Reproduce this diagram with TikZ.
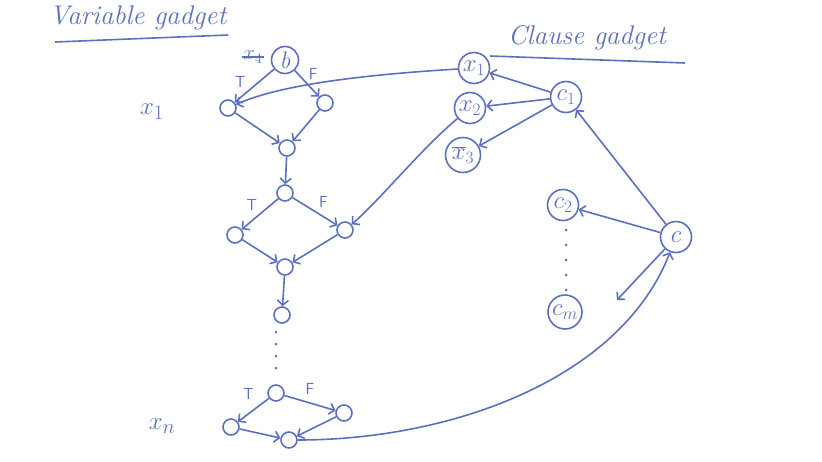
\documentclass[tikz,border=0pt]{standalone}
\usetikzlibrary{arrows.meta}
\definecolor{ink}{RGB}{92,112,192}
\begin{document}
\begin{tikzpicture}[x=1pt,y=-1pt, line width=1.6pt, draw=ink, text=ink,
  vtx/.style={circle,draw=ink,minimum width=16pt,minimum height=15pt,inner sep=0pt},
  lit/.style={circle,draw=ink,minimum size=31pt,inner sep=0pt,font=\fontsize{24}{26}\selectfont\itshape},
  edge/.style={draw=ink,-{Straight Barb[length=5pt,width=11pt]}},
  lbl/.style={font=\fontsize{16}{18}\selectfont\sffamily,text=ink},
  title/.style={font=\fontsize{27}{30}\selectfont\itshape,text=ink},
  side/.style={font=\fontsize{30}{32}\selectfont,text=ink}]
\useasboundingbox (0,0) rectangle (822,461);

% titles
\node[title] (vt) at (138,18) {Variable gadget};
\draw[draw=ink] (55,42) -- (228,35);
\node[title] (ct) at (587,38) {Clause gadget};
\draw[draw=ink] (490,56) -- (685,63);

% variable gadget x1
\node[lit,minimum size=27pt] (b) at (285,60) {b};
\node[text=ink,font=\fontsize{20}{22}\selectfont,inner sep=1pt] (x4) at (253,57) {$x_4$};
\draw[draw=ink,line width=1.2pt] (x4.west) -- (x4.east);
\node[vtx] (l1) at (228,108) {};
\node[vtx] (r1) at (325,103) {};
\node[vtx] (m1) at (287,148) {};
\draw[edge] (b) -- node[lbl,pos=0.65,above left=-1pt] {T} (l1);
\draw[edge] (b) -- node[lbl,pos=0.45,above right=-1pt] {F} (r1);
\draw[edge] (l1) -- (m1);
\draw[edge] (r1) -- (m1);
\node[side] (x1lbl) at (152,112) {$x_1$};

% second gadget
\node[vtx] (t2) at (285,193) {};
\node[vtx] (l2) at (235,235) {};
\node[vtx] (r2) at (345,230) {};
\node[vtx] (m2) at (285,267) {};
\draw[edge] (m1) -- (t2);
\draw[edge] (t2) -- node[lbl,pos=0.5,above left=-1pt] {T} (l2);
\draw[edge] (t2) -- node[lbl,pos=0.5,above right=0pt] {F} (r2);
\draw[edge] (l2) -- (m2);
\draw[edge] (r2) -- (m2);
\node[vtx] (d2) at (282,315) {};
\draw[edge] (m2) -- (d2);

% dots
\foreach \y in {332,344,356,368} \fill[ink] (276,\y) circle (1.5pt);

% last gadget xn
\node[vtx] (tn) at (276,393) {};
\node[vtx] (ln) at (231,427) {};
\node[vtx] (rn) at (344,413) {};
\node[vtx] (mn) at (289,440) {};
\draw[edge] (tn) -- node[lbl,pos=0.3,above left=2pt] {T} (ln);
\draw[edge] (tn) -- node[lbl,pos=0.5,above=4pt] {F} (rn);
\draw[edge] (ln) -- (mn);
\draw[edge] (rn) -- (mn);
\node[side] (xnlbl) at (162,426) {$x_n$};

% clause gadget
\node[lit] (x1) at (474,68) {$x_1$};
\node[lit] (x2) at (470,108) {$x_2$};
\node[lit,minimum size=35pt] (x3) at (463,155) {$\overline{x}_3$};
\node[lit] (c1) at (566,97) {$c_1$};
\node[lit] (c2) at (563,205) {$c_2$};
\node[lit] (cc) at (676,237) {$c$};
\node[lit,minimum size=34pt] (cm) at (565,312) {$c_m$};
\coordinate (cf) at (617,300);
\draw[edge] (c1) -- (x1);
\draw[edge] (c1) -- (x2);
\draw[edge] (c1) -- (x3);
\draw[edge] (cc) -- (c2);
\draw[edge] (cc) -- (c1);
\draw[edge] (cc) -- (cf);
\foreach \y in {230,245,260,275,290} \fill[ink] (566,\y) circle (1.5pt);

% cross connections
\draw[edge] (x1) .. controls (360,75) and (280,85) .. (l1);
\draw[edge] (x2) .. controls (420,150) and (380,200) .. (r2);
\draw[edge] (mn) .. controls (450,440) and (620,380) .. (cc);
\end{tikzpicture}
\end{document}
